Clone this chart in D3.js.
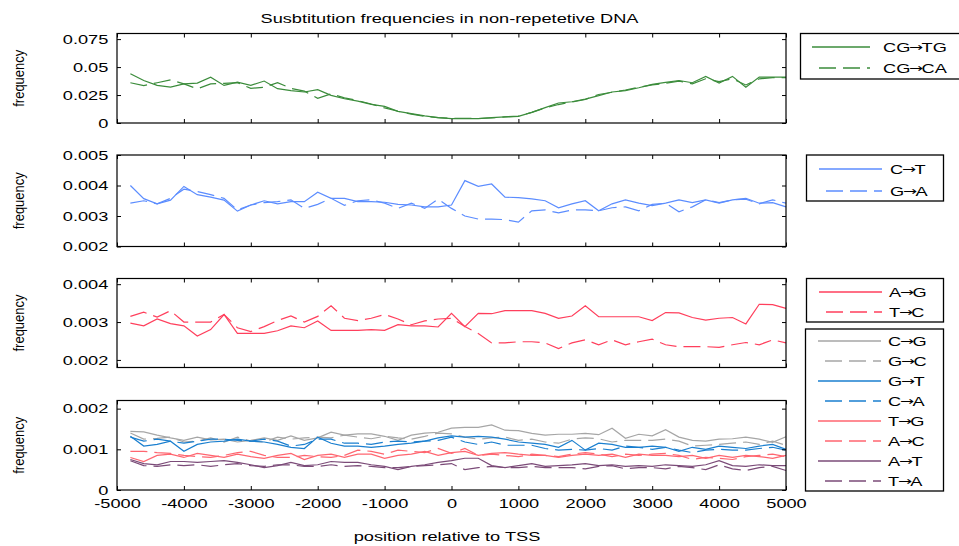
<!DOCTYPE html>
<html>
<head>
<meta charset="utf-8">
<script src="https://cdn.jsdelivr.net/npm/d3@7"></script>
<style>
  body { margin: 0; background: #fff; }
  text { font-family: "Liberation Sans", Arial, Helvetica, sans-serif; font-size: 13px; fill: #000; }
</style>
</head>
<body>
<svg id="chart" width="959" height="546"></svg>
<script>
// Bin centres (bp relative to the TSS)
const positions = [
  -4800,-4600,-4400,-4200,-4000,-3800,-3600,-3400,-3200,-3000,
  -2800,-2600,-2400,-2200,-2000,-1800,-1600,-1400,-1200,-1000,
  -800,-600,-400,-200,0,200,400,600,800,1000,
  1200,1400,1600,1800,2000,2200,2400,2600,2800,3000,
  3200,3400,3600,3800,4000,4200,4400,4600,4800,5000
];

// CpG transitions
const cgTG = [
  .044,.038,.0336,.032,.035,.0357,.041,.0336,.0366,.0336,
  .0375,.0307,.029,.0277,.0298,.0247,.0217,.0196,.0167,.0149,
  .0104,.0083,.0063,.0048,.0039,.0039,.0039,.0048,.0054,.006,
  .0095,.0137,.0179,.019,.0214,.0244,.0277,.029,.0315,.0345,
  .0363,.038,.036,.0417,.0357,.0417,.032,.041,.041,.041
];
const cgCA = [
  .036,.0335,.036,.0385,.035,.0305,.035,.0355,.036,.031,
  .032,.036,.031,.0285,.022,.026,.0225,.02,.017,.0135,
  .0105,.008,.006,.0048,.0042,.0042,.004,.0045,.0055,.0062,
  .0095,.0135,.0165,.0188,.021,.0255,.0275,.0295,.032,.034,
  .0355,.0375,.035,.0395,.037,.0395,.034,.0395,.0405,.0405
];

// C/G transitions
const cT = [
  .004,.00357,.0034,.00352,.00397,.0037,.00362,.00352,.00316,.00336,
  .0035,.0034,.00347,.00347,.00378,.00358,.00358,.00347,.00347,.00345,
  .00338,.00336,.0033,.0033,.00336,.00416,.00397,.00405,.00362,.0036,
  .00356,.0035,.00327,.0034,.0035,.00317,.0034,.00353,.00342,.00334,
  .00342,.00353,.00344,.00353,.00342,.00353,.00358,.00342,.00344,.0033
];
const gA = [
  .00342,.0035,.0034,.00358,.00388,.0038,.0037,.00358,.0032,.00336,
  .00344,.00347,.00353,.00325,.00338,.00358,.00335,.0035,.00353,.00342,
  .00325,.00342,.00325,.00355,.00325,.003,.0029,.0029,.00288,.0028,
  .00317,.0032,.0031,.0032,.0032,.00317,.00327,.0033,.00317,.00338,
  .00342,.00314,.0033,.00353,.00344,.00353,.00355,.0034,.00353,.00342
];

// A/T transitions
const aG = [
  .00297,.0029,.00308,.00296,.0029,.00263,.0028,.0032,.0027,.0027,
  .0027,.00277,.0029,.00285,.00303,.00278,.00278,.00278,.0028,.00278,
  .00293,.0029,.0029,.00287,.00323,.00288,.00323,.00322,.0033,.0033,
  .0033,.00323,.0031,.00316,.00343,.00314,.00314,.00314,.00314,.00304,
  .00325,.00324,.00312,.00305,.0031,.00312,.00295,.00347,.00346,.00336
];
const tC = [
  .00315,.00326,.00313,.0033,.003,.003,.003,.0032,.00285,.00275,
  .00288,.00304,.00316,.003,.00315,.00343,.0031,.00304,.0031,.0032,
  .00308,.00293,.00303,.00308,.0031,.00288,.0027,.00245,.00245,.00248,
  .00248,.00245,.0023,.00245,.00253,.0024,.00253,.0024,.00248,.00255,
  .0024,.00235,.00235,.00235,.00233,.0024,.00246,.0024,.00253,.00245
];

// Transversions
const cG = [
  .00144,.00143,.00135,.00128,.00122,.0013,.00123,.00125,.00118,.00122,
  .00128,.00122,.00133,.00122,.00128,.00142,.00135,.00138,.00138,.00132,
  .00122,.00135,.0014,.00142,.00152,.00154,.00154,.0016,.00147,.00146,
  .00139,.00135,.00137,.00137,.00139,.00136,.00152,.00127,.00137,.00133,
  .00148,.0013,.00122,.0012,.00125,.00126,.0013,.00125,.00117,.00131
];
const gC = [
  .0014,.00125,.00127,.0013,.00118,.0012,.00128,.00118,.0013,.0012,
  .00118,.0013,.00125,.00128,.0013,.00128,.00135,.0013,.00126,.00132,
  .00128,.00125,.00132,.0014,.00138,.0013,.00125,.00128,.0013,.00122,
  .00125,.00118,.00115,.00125,.00128,.00126,.00118,.00122,.00122,.00122,
  .00125,.0012,.00108,.0011,.00112,.00115,.00118,.00112,.0012,.0011
];
const gT = [
  .00132,.00108,.00112,.0012,.00095,.00112,.00118,.0012,.00125,.0012,
  .00118,.00112,.00105,.00102,.0013,.00115,.00108,.00108,.00105,.00108,
  .00112,.00115,.0012,.00128,.00133,.0013,.00132,.0013,.00125,.00118,
  .00115,.00112,.00105,.00122,.00098,.00115,.00112,.00105,.00105,.00108,
  .00105,.00095,.00105,.001,.00108,.00105,.00102,.00108,.00112,.001
];
const cA = [
  .0013,.0012,.00125,.0012,.00115,.0012,.00125,.00125,.00122,.0012,
  .00125,.0012,.00108,.00112,.00125,.00125,.00115,.00115,.00112,.00118,
  .0012,.00118,.0012,.00122,.0013,.00118,.00112,.00118,.0011,.0011,
  .0011,.00102,.00098,.001,.00098,.00102,.00098,.00108,.00105,.001,
  .00105,.00098,.00092,.00098,.001,.00098,.00098,.00102,.00105,.00098
];
const tG = [
  .0008,.0007,.00085,.00088,.0008,.0009,.00085,.0008,.00088,.00082,
  .00078,.00085,.0009,.00075,.00085,.00088,.0008,.00088,.00088,.00078,
  .00085,.00088,.00095,.00085,.00092,.00095,.00085,.0009,.00092,.00088,
  .00085,.00085,.0008,.00085,.00088,.00085,.00088,.0008,.00088,.00085,
  .00085,.00082,.00085,.00078,.00085,.0008,.00085,.00082,.00078,.00085
];
const aC = [
  .00095,.00095,.00092,.0009,.00085,.00082,.0008,.00085,.00092,.00095,
  .00085,.0008,.0008,.00085,.00082,.0008,.00085,.00098,.00095,.00088,
  .00098,.00095,.00092,.00102,.0009,.00102,.00085,.00088,.00085,.00082,
  .00088,.00085,.00082,.00088,.00092,.00088,.00082,.00088,.00085,.00088,
  .0009,.00085,.00075,.0008,.00078,.00075,.00082,.00085,.00088,.00082
];
const aT = [
  .00075,.00065,.00062,.0007,.0007,.00068,.0007,.00072,.00068,.00062,
  .00055,.0006,.00068,.0006,.00062,.0007,.00068,.00068,.00062,.00058,
  .0005,.00058,.00062,.00068,.00072,.00078,.00078,.0006,.00055,.0006,
  .00065,.00058,.0006,.00062,.00065,.0006,.00062,.00058,.0006,.00058,
  .00062,.0006,.00058,.00062,.00072,.0006,.00058,.00062,.0006,.0006
];
const tA = [
  .00072,.0006,.00058,.00062,.0006,.00062,.00058,.00062,.00065,.0006,
  .00058,.00062,.00062,.00058,.00058,.00062,.00058,.0006,.00058,.00055,
  .00055,.00058,.0006,.00062,.00065,.0005,.00055,.00058,.00055,.00055,
  .00058,.00055,.00055,.00055,.00052,.00058,.0006,.00052,.00055,.00055,
  .00052,.00058,.00055,.0005,.00062,.00052,.00048,.00055,.00058,.00048
];

// Axis ticks and their labels
const xTickValues = [-5000,-4000,-3000,-2000,-1000,0,1000,2000,3000,4000,5000];
const xTickLabels = ["-5000","-4000","-3000","-2000","-1000","0","1000","2000","3000","4000","5000"];
const yTicks1 = [0, 0.025, 0.05, 0.075];      const yLabels1 = ["0","0.025","0.05","0.075"];
const yTicks2 = [0.002, 0.003, 0.004, 0.005]; const yLabels2 = ["0.002","0.003","0.004","0.005"];
const yTicks3 = [0.002, 0.003, 0.004];        const yLabels3 = ["0.002","0.003","0.004"];
const yTicks4 = [0, 0.001, 0.002];            const yLabels4 = ["0","0.001","0.002"];

const titleText = "Susbtitution frequencies in non-repetetive DNA";
const xTitle = "position relative to TSS";
const yTitle = "frequency";

// ---- layout ----
const SX = 1.4;            // horizontal text stretch
const DASH = "17,7";
const svg = d3.select("#chart");
const x = d3.scaleLinear().domain([-5000, 5000]).range([117, 786]);

const panels = [
  { top: 33.5, bottom: 123, domain: [0, 0.08], ticks: yTicks1, labels: yLabels1,
    series: [
      { name: "CG\u2192TG", values: cgTG, color: "#3b8c3b", dash: false },
      { name: "CG\u2192CA", values: cgCA, color: "#3b8c3b", dash: true } ],
    legends: [{ x0: 800.5, x1: 975, y0: 33.5, y1: 79, rows: [47, 68], lx: [812, 870], tx: 883, items: [0, 1] }] },
  { top: 155, bottom: 246.5, domain: [0.002, 0.005], ticks: yTicks2, labels: yLabels2,
    series: [
      { name: "C\u2192T", values: cT, color: "#5c8dff", dash: false },
      { name: "G\u2192A", values: gA, color: "#5c8dff", dash: true } ],
    legends: [{ x0: 806.5, x1: 943.5, y0: 155, y1: 201, rows: [169, 191], lx: [819, 882], tx: 890, items: [0, 1] }] },
  { top: 278.5, bottom: 367.5, domain: [0.0018, 0.00415], ticks: yTicks3, labels: yLabels3,
    series: [
      { name: "A\u2192G", values: aG, color: "#ff3f5c", dash: false },
      { name: "T\u2192C", values: tC, color: "#ff3f5c", dash: true } ],
    legends: [{ x0: 806.5, x1: 943.5, y0: 278.5, y1: 322, rows: [292, 312], lx: [819, 882], tx: 889, items: [0, 1] }] },
  { top: 400.5, bottom: 490, domain: [0, 0.0022], ticks: yTicks4, labels: yLabels4,
    series: [
      { name: "C\u2192G", values: cG, color: "#a6a6a6", dash: false },
      { name: "G\u2192C", values: gC, color: "#a6a6a6", dash: true },
      { name: "G\u2192T", values: gT, color: "#1a7fcf", dash: false },
      { name: "C\u2192A", values: cA, color: "#1a7fcf", dash: true },
      { name: "T\u2192G", values: tG, color: "#ff6670", dash: false },
      { name: "A\u2192C", values: aC, color: "#ff6670", dash: true },
      { name: "A\u2192T", values: aT, color: "#7b4b78", dash: false },
      { name: "T\u2192A", values: tA, color: "#7b4b78", dash: true } ],
    legends: [{ x0: 805.5, x1: 943.5, y0: 329, y1: 491, rows: [341, 361, 381, 401, 421, 441, 461, 481],
                lx: [818, 881], tx: 888, items: [0, 1, 2, 3, 4, 5, 6, 7] }] }
];

// Write a label whose arrow is set tight against the letters around it
function arrowLabel(textSel, label) {
  const parts = label.split("\u2192");
  textSel.append("tspan").text(parts[0]);
  textSel.append("tspan")
    .attr("font-family", "'DejaVu Sans', sans-serif")
    .attr("font-size", "12px").attr("dx", -1).attr("dy", -0.5).text("\u2192");
  textSel.append("tspan").attr("dx", -1).attr("dy", 0.5).text(parts[1]);
}

// Title
svg.append("text")
  .attr("transform", `translate(449.5,23) scale(${SX},1)`)
  .attr("text-anchor", "middle")
  .text(titleText);

panels.forEach((p, pi) => {
  const y = d3.scaleLinear().domain(p.domain).range([p.bottom, p.top]);
  const g = svg.append("g");
  const isLast = pi === panels.length - 1;

  // series lines
  p.series.forEach(s => {
    const line = d3.line()
      .x((d, i) => x(positions[i]))
      .y(d => y(d));
    g.append("path")
      .datum(s.values)
      .attr("d", line)
      .attr("fill", "none")
      .attr("stroke", s.color)
      .attr("stroke-width", 1.2)
      .attr("stroke-dasharray", s.dash ? DASH : null);
  });

  // axes with inward ticks on all four sides
  const bottomAx = d3.axisBottom(x).tickValues(xTickValues).tickSizeInner(-4).tickSizeOuter(0).tickPadding(9)
    .tickFormat((d, i) => isLast ? xTickLabels[i] : "");
  const topAx = d3.axisTop(x).tickValues(xTickValues).tickSizeInner(-4).tickSizeOuter(0).tickFormat("");
  const leftAx = d3.axisLeft(y).tickValues(p.ticks).tickSizeInner(-4).tickSizeOuter(0)
    .tickFormat((d, i) => p.labels[i]);
  const rightAx = d3.axisRight(y).tickValues(p.ticks).tickSizeInner(-4).tickSizeOuter(0).tickFormat("");

  const gb = g.append("g").attr("transform", `translate(0,${p.bottom})`).call(bottomAx);
  const gt = g.append("g").attr("transform", `translate(0,${p.top})`).call(topAx);
  const gl = g.append("g").attr("transform", `translate(${x.range()[0]},0)`).call(leftAx);
  const gr = g.append("g").attr("transform", `translate(${x.range()[1]},0)`).call(rightAx);
  [gb, gt, gl, gr].forEach(a => {
    a.select(".domain").remove();
    a.selectAll("line").attr("stroke", "#000");
    a.attr("font-family", null).attr("font-size", null);
  });
  gl.selectAll("text")
    .attr("x", null)
    .attr("transform", `translate(-8.7,0) scale(${SX},1)`)
    .attr("fill", "#000");
  gb.selectAll("text")
    .attr("transform", `scale(${SX},1)`)
    .attr("fill", "#000");

  // frame
  g.append("rect")
    .attr("x", x.range()[0]).attr("y", p.top)
    .attr("width", x.range()[1] - x.range()[0]).attr("height", p.bottom - p.top)
    .attr("fill", "none").attr("stroke", "#000").attr("stroke-width", 1.2);

  // y title
  svg.append("text")
    .attr("transform", `translate(24,${(p.top + p.bottom) / 2}) scale(${SX * 0.8},1) rotate(-90)`)
    .attr("text-anchor", "middle")
    .text(yTitle);

  // legends
  p.legends.forEach(L => {
    const lg = svg.append("g");
    lg.append("rect")
      .attr("x", L.x0).attr("y", L.y0)
      .attr("width", L.x1 - L.x0).attr("height", L.y1 - L.y0)
      .attr("fill", "#fff").attr("stroke", "#000").attr("stroke-width", 1.3);
    L.items.forEach((si, k) => {
      const s = p.series[si];
      const ry = L.rows[k];
      lg.append("line")
        .attr("x1", L.lx[0]).attr("x2", L.lx[1])
        .attr("y1", ry).attr("y2", ry)
        .attr("stroke", s.color).attr("stroke-width", 1.4)
        .attr("stroke-dasharray", s.dash ? DASH : null)
        .attr("stroke-dashoffset", s.dash ? 17 : null);
      const t = lg.append("text")
        .attr("transform", `translate(${L.tx},${ry}) scale(${SX},1)`)
        .attr("dy", "0.35em");
      arrowLabel(t, s.name);
    });
  });
});

// x title
svg.append("text")
  .attr("transform", `translate(447,541) scale(${SX},1)`)
  .attr("text-anchor", "middle")
  .text(xTitle);
</script>
</body>
</html>
